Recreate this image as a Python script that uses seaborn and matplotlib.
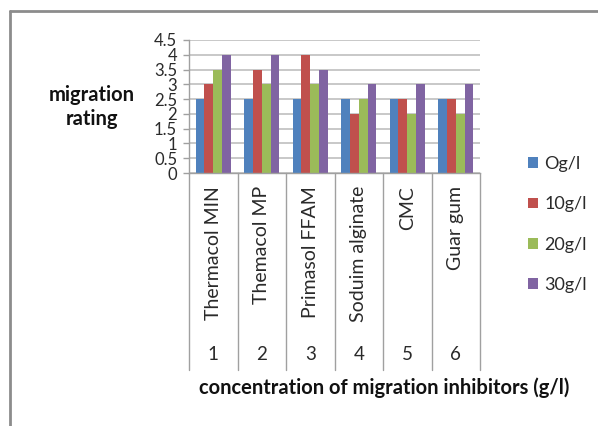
import matplotlib
matplotlib.use("Agg")
import matplotlib.pyplot as plt
from matplotlib.lines import Line2D
import seaborn as sns
import pandas as pd

categories = ["1", "2", "3", "4", "5", "6"]
names = ["Thermacol MIN", "Themacol MP", "Primasol FFAM", "Soduim alginate", "CMC", "Guar gum"]
series = ["Og/l", "10g/l", "20g/l", "30g/l"]
v0 = [2.5, 2.5, 2.5, 2.5, 2.5, 2.5]
v10 = [3.0, 3.5, 4.0, 2.0, 2.5, 2.5]
v20 = [3.5, 3.0, 3.0, 2.5, 2.0, 2.0]
v30 = [4.0, 4.0, 3.5, 3.0, 3.0, 3.0]
yticks = [0, 0.5, 1, 1.5, 2, 2.5, 3, 3.5, 4, 4.5]
ytick_labels = ["0", "0.5", "1", "1.5", "2", "2.5", "3", "3.5", "4", "4.5"]
colors = ["#4F81BD", "#C0504D", "#9BBB59", "#8064A2"]

rows = []
for s, vals in zip(series, [v0, v10, v20, v30]):
    for c, v in zip(categories, vals):
        rows.append({"cat": c, "conc": s, "val": v})
df = pd.DataFrame(rows)

sns.set_style("white")
plt.rcParams["font.family"] = ["Lato", "DejaVu Sans"]

TXT = "#2a2a2a"
W, H = 598, 426
fig = plt.figure(figsize=(W / 100, H / 100), dpi=100)
ax_l, ax_r, ax_t, ax_b = 189, 480, 40, 173
ax = fig.add_axes([ax_l / W, 1 - ax_b / H, (ax_r - ax_l) / W, (ax_b - ax_t) / H])

sns.barplot(data=df, x="cat", y="val", hue="conc", order=categories,
            hue_order=series, palette=colors, saturation=1, width=0.73,
            gap=0, edgecolor="none", linewidth=0, ax=ax)

ax.set_ylim(0, 4.5)
ax.set_xlim(-0.5, 5.5)
ax.set_yticks(yticks)
ax.set_yticklabels(ytick_labels, fontsize=12, color=TXT)
ax.set_xticks([])
ax.set_xlabel("")
ax.set_ylabel("")
ax.grid(axis="y", color="#BFBFBF", linewidth=1.2)
ax.set_axisbelow(True)
ax.tick_params(axis="y", left=True, length=4.5, width=1, color="#A0A0A0", pad=4)
for sp in ["top", "right"]:
    ax.spines[sp].set_visible(False)
for sp in ["left", "bottom"]:
    ax.spines[sp].set_color("#A0A0A0")
    ax.spines[sp].set_linewidth(1)

# multi-level category axis
axh = ax_b - ax_t
def yfrac(py):
    return (ax_b - py) / axh

trans = ax.get_xaxis_transform()
for i in range(len(categories) + 1):
    ax.plot([i - 0.5, i - 0.5], [0, yfrac(370)], transform=trans,
            color="#A0A0A0", linewidth=1, clip_on=False)
for i, (c, n) in enumerate(zip(categories, names)):
    ax.text(i, yfrac(186), n, transform=trans, rotation=90, ha="center",
            va="top", fontsize=14, color=TXT)
    ax.text(i, yfrac(355), c, transform=trans, ha="center", va="center",
            fontsize=13.5, color=TXT)

fig.text(384 / W, 1 - 388 / H, "concentration of migration inhibitors (g/l)",
         ha="center", va="center", fontsize=14.5, fontweight="bold", color="#111111")
fig.text(92 / W, 1 - 107 / H, "migration\nrating", ha="center", va="center",
         fontsize=14.5, fontweight="bold", color="#111111", linespacing=1.3)

ax.get_legend().remove()
handles, labels = ax.get_legend_handles_labels()
fig.legend(handles, labels, loc="upper left", bbox_to_anchor=(519 / W, 1 - 147 / H),
           frameon=False, fontsize=13, handlelength=0.55, handleheight=0.55,
           handletextpad=0.35, labelspacing=1.35, borderpad=0, labelcolor=TXT)

# outer frame
fig.add_artist(Line2D([10 / W, 10 / W], [0, 1 - 11 / H], transform=fig.transFigure,
                      color="#8C8C8C", linewidth=2))
fig.add_artist(Line2D([10 / W, 1], [1 - 11 / H, 1 - 11 / H], transform=fig.transFigure,
                      color="#8C8C8C", linewidth=2))

fig.savefig("out.png", dpi=100)
